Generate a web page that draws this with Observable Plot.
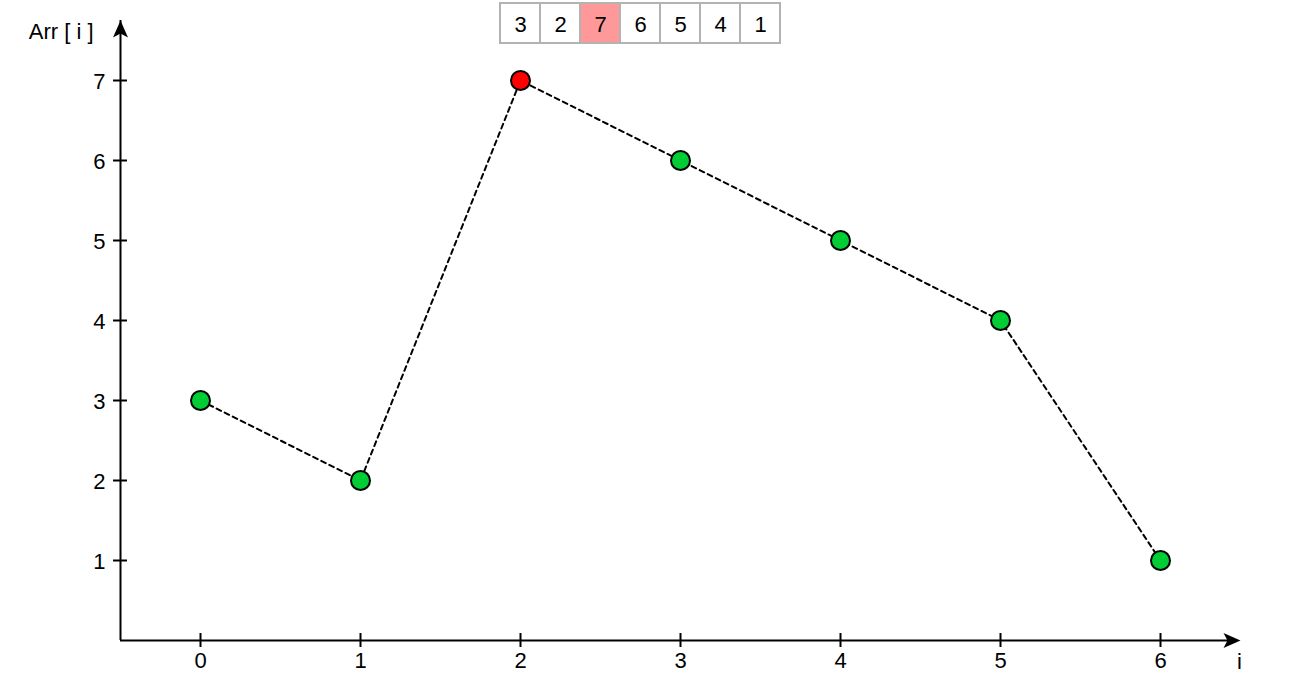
<!DOCTYPE html>
<html>
<head>
<meta charset="utf-8">
<script src="https://cdn.jsdelivr.net/npm/d3@7"></script>
<script src="https://cdn.jsdelivr.net/npm/@observablehq/plot@0.6"></script>
<style>
  html, body { margin: 0; padding: 0; background: #fff; }
  #wrap { position: relative; width: 1304px; height: 692px; font-family: "Liberation Sans", Arial, sans-serif; }
  #strip { position: absolute; left: 499px; top: 2px; }
</style>
</head>
<body>
<div id="wrap"><div id="strip"></div></div>
<script>
// ---- data ----
const indices = [0, 1, 2, 3, 4, 5, 6];
const arr = [3, 2, 7, 6, 5, 4, 1];
const highlightIndex = 2;
const xTicks = [0, 1, 2, 3, 4, 5, 6];
const yTicks = [1, 2, 3, 4, 5, 6, 7];
const xLabel = "i";
const yLabel = "Arr [ i ]";

const points = indices.map((i, k) => ({i, v: arr[k], hot: i === highlightIndex}));

const FONT = "Liberation Sans, Arial, sans-serif";
const FS = 22;

// filled "classic" arrowhead, tip at origin, pointing up
const arrowHead = {
  draw(ctx) {
    ctx.moveTo(0, 0);
    ctx.lineTo(7.5, 17);
    ctx.lineTo(0, 13);
    ctx.lineTo(-7.5, 17);
    ctx.closePath();
  }
};

const chart = Plot.plot({
  width: 1304,
  height: 692,
  marginLeft: 120,
  marginRight: 64,
  marginTop: 20,
  marginBottom: 52,
  style: {fontFamily: FONT, fontSize: FS + "px", background: "transparent"},
  x: {domain: [-0.5, 6.5], axis: null},
  y: {domain: [0, 7.75], axis: null},
  marks: [
    // axes lines
    Plot.ruleX([-0.5], {stroke: "black", strokeWidth: 2}),
    Plot.ruleY([0], {stroke: "black", strokeWidth: 2, insetRight: 4}),
    // arrowheads
    Plot.dot([0], {x: -0.5, frameAnchor: "top", symbol: arrowHead, fill: "black", stroke: "none"}),
    Plot.dot([0], {y: 0, frameAnchor: "right", symbol: arrowHead, rotate: 90, fill: "black", stroke: "none"}),
    // ticks crossing the axes
    Plot.ruleX(xTicks, {x: d => d, y1: 0, y2: 0, insetTop: -7, insetBottom: -7, stroke: "black", strokeWidth: 2}),
    Plot.ruleY(yTicks, {y: d => d, x1: -0.5, x2: -0.5, insetLeft: -7, insetRight: -7, stroke: "black", strokeWidth: 2}),
    // tick labels
    Plot.text(xTicks, {x: d => d, y: 0, text: d => String(d), dy: 20, fill: "black", fontSize: FS}),
    Plot.text(yTicks, {x: -0.5, y: d => d, text: d => String(d), textAnchor: "end", dx: -15, dy: 1, fill: "black", fontSize: FS}),
    // axis titles
    Plot.text([yLabel], {frameAnchor: "top-left", text: d => d, textAnchor: "end", lineAnchor: "middle", dx: -27, dy: 11, fill: "black", fontSize: FS}),
    Plot.text([xLabel], {frameAnchor: "bottom-right", text: d => d, textAnchor: "middle", lineAnchor: "middle", dx: -1, dy: 21, fill: "black", fontSize: FS}),
    // data
    Plot.line(points, {x: "i", y: "v", stroke: "black", strokeWidth: 2, strokeDasharray: "5,4"}),
    Plot.dot(points, {x: "i", y: "v", r: 9.5, fill: d => d.hot ? "#FF0000" : "#00CC33", stroke: "black", strokeWidth: 2})
  ]
});
document.getElementById("wrap").appendChild(chart);

// array strip above the chart
const strip = Plot.plot({
  width: 282,
  height: 42,
  margin: 1,
  style: {fontFamily: FONT, fontSize: FS + "px", background: "transparent"},
  x: {type: "band", domain: indices, padding: 0, axis: null},
  marks: [
    Plot.cell(points, {x: "i", fill: d => d.hot ? "#FF9999" : "#FFFFFF", stroke: "#B3B3B3", strokeWidth: 2}),
    Plot.text(points, {x: "i", text: d => String(d.v), frameAnchor: "middle", dy: 1, fill: "black", fontSize: FS})
  ]
});
document.getElementById("strip").appendChild(strip);
</script>
</body>
</html>
